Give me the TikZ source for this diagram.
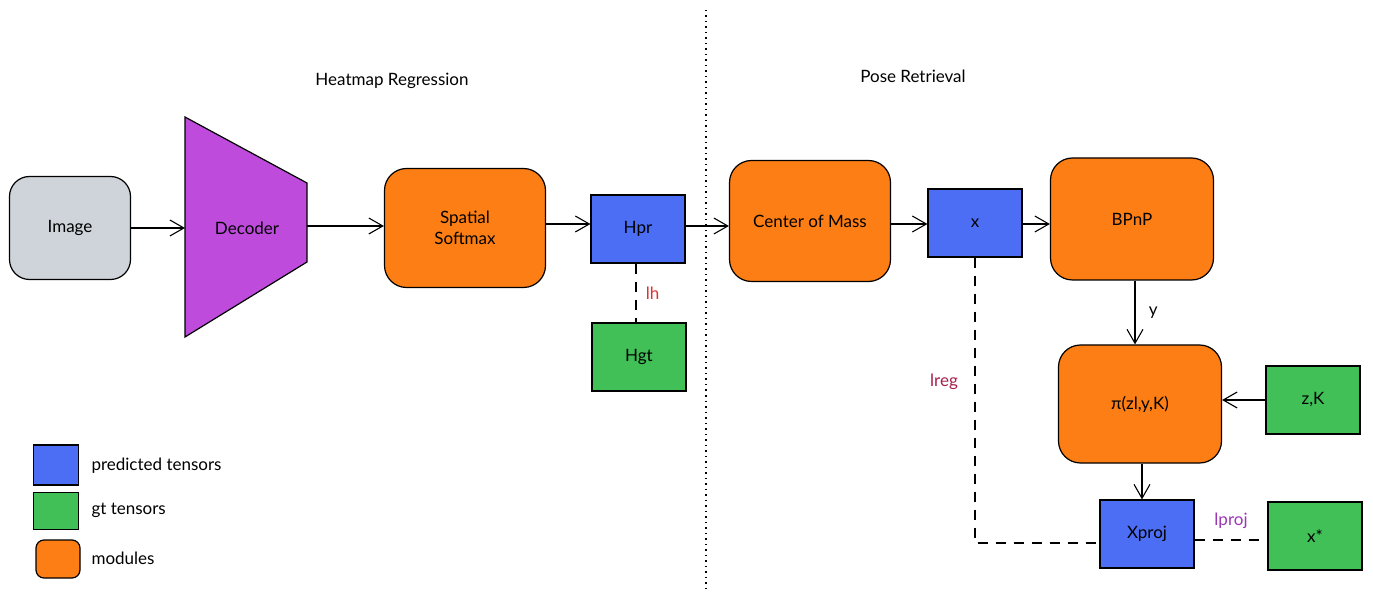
\documentclass[tikz,border=0pt]{standalone}
\usepackage{fontspec}
\setmainfont{Lato}
\usetikzlibrary{arrows.meta,calc}
\definecolor{cblue}{HTML}{4C6EF5}
\definecolor{cgreen}{HTML}{40C057}
\definecolor{corange}{HTML}{FD7E14}
\definecolor{cpurple}{HTML}{BE4BDB}
\definecolor{cgray}{HTML}{CED4DA}
\definecolor{cred}{HTML}{E03131}
\definecolor{cwine}{HTML}{A61E4D}
\definecolor{cviolet}{HTML}{9C36B5}
\tikzset{
  x={(1pt,0)}, y={(0,-1pt)},
  every node/.style={font=\fontsize{17}{21}\selectfont},
  box/.style={draw=black, line width=1.2pt, inner sep=0pt, align=center},
  pred/.style={box, fill=cblue, minimum width=94pt, minimum height=68pt},
  gt/.style={box, fill=cgreen, minimum width=94pt, minimum height=68pt},
  module/.style={box, fill=corange, rounded corners=22pt},
  arr/.style={-{Straight Barb[length=14pt,width=16pt]}, line width=1.1pt},
  loss/.style={dashed, dash pattern=on 10pt off 8pt, line width=1.1pt},
}
\begin{document}
\begin{tikzpicture}
\useasboundingbox (0,0) rectangle (1373,601);
% divider
\draw[line width=1.4pt, dash pattern=on 1.5pt off 4pt] (706,10) -- (706,590);
% titles
\node (t1) at (392,81) {Heatmap Regression};
\node (t2) at (913,76) {Pose Retrieval};
% nodes
\node[box, fill=cgray, rounded corners=20pt, minimum width=121pt, minimum height=103pt] (img) at (70,228) {Image};
\draw[line width=1.2pt, fill=cpurple] (185,117) -- (307,183) -- (307,262) -- (185,337) -- cycle;
\coordinate (decL) at (185,228);
\coordinate (decR) at (307,226);
\node (dec) at (247,228) {Decoder};
\node[module, minimum width=161pt, minimum height=119pt] (ss) at (465,228) {Spatial\\Softmax};
\node[pred] (hpr) at (638,229) {Hpr};
\node[gt] (hgt) at (639,357) {Hgt};
\node[module, minimum width=161pt, minimum height=121pt] (com) at (810,221) {Center of Mass};
\node[pred] (x) at (975,223) {x};
\node[module, minimum width=163pt, minimum height=122pt] (bpnp) at (1132,219) {BPnP};
\node[module, minimum width=163pt, minimum height=118pt] (pi) at (1140,404) {π(zl,y,K)};
\node[gt] (zk) at (1313,400) {z,K};
\node[pred] (xp) at (1147,534) {Xproj};
\node[gt] (xs) at (1315,536) {x*};
% arrows
\draw[arr] (img.east) -- (decL);
\draw[arr] (decR) -- (ss.west |- decR);
\draw[arr] (ss.east |- 0,224) -- (hpr.west |- 0,224);
\draw[arr] (hpr.east |- 0,226) -- (com.west |- 0,226);
\draw[arr] (com.east |- 0,224) -- (x.west |- 0,224);
\draw[arr] (x.east |- 0,224) -- (bpnp.west |- 0,224);
\draw[arr] (bpnp.south -| 1135,0) -- node[right=10pt] {y} (pi.north -| 1135,0);
\draw[arr] (zk.west) -- (pi.east |- zk.west);
\draw[arr] (pi.south -| 1142,0) -- (xp.north -| 1142,0);
% losses
\draw[loss] (hpr.south -| 636,0) -- node[right=6pt, text=cred] {lh} (hgt.north -| 636,0);
\coordinate (corner) at (975,543);
\draw[loss] (x.south) -- (corner) -- (xp.west |- corner);
\node[text=cwine] (lreg) at (944,382) {lreg};
\draw[loss] (xp.east |- 0,540) -- node[above=8pt, text=cviolet] {lproj} (xs.west |- 0,540);
% legend
\node[box, fill=cblue, minimum width=45pt, minimum height=40pt] (lb) at (56,465) {};
\node[box, fill=cgreen, minimum width=45pt, minimum height=37pt] (lg) at (56,511) {};
\node[box, fill=corange, rounded corners=8pt, minimum width=44pt, minimum height=38pt] (lo) at (58,559) {};
\node[anchor=west] (lbt) at (88,466) {predicted tensors};
\node[anchor=west] (lgt) at (88,510) {gt tensors};
\node[anchor=west] (lot) at (88,558) {modules};
\end{tikzpicture}
\end{document}
